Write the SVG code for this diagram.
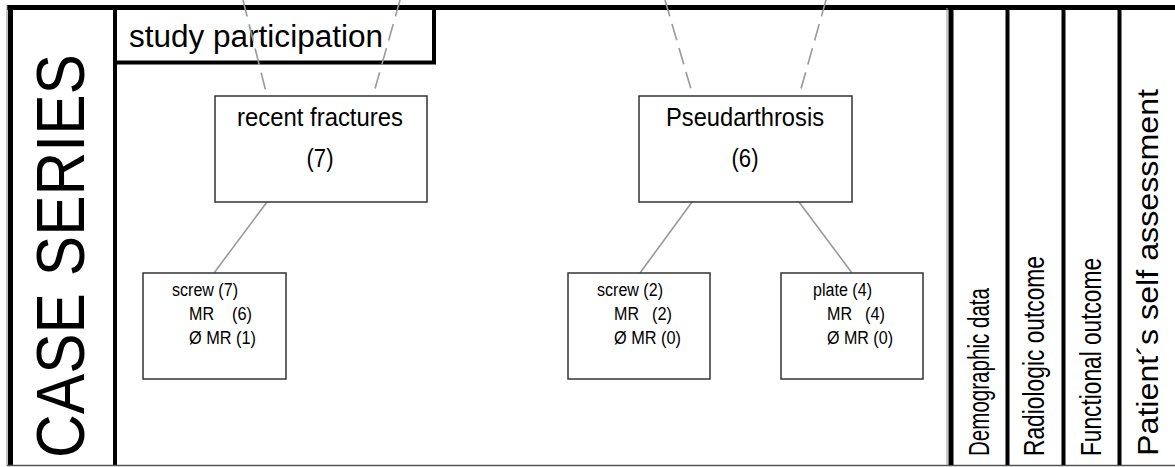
<svg xmlns="http://www.w3.org/2000/svg" width="1175" height="467" viewBox="0 0 1175 467">
<style>
text{font-family:"Liberation Sans",Arial,sans-serif;fill:#000}
.frame{stroke:#000;fill:none}
.box{fill:#fff;stroke:#333;stroke-width:1.5}
.conn{stroke:#999;stroke-width:1.6;fill:none}
.dash{stroke:#999;stroke-width:1.6;fill:none;stroke-dasharray:17 8}
.big{font-size:26px;text-anchor:middle}
.small{font-size:18px}
.lab{font-size:30px}
</style>
<rect x="0" y="0" width="1175" height="467" fill="#fff"/>
<g id="frame">
<line class="frame" x1="7" y1="7.5" x2="1175" y2="7.5" stroke-width="5"/>
<line class="frame" x1="10.5" y1="5" x2="10.5" y2="465" stroke-width="5"/>
<line x1="7" y1="5" x2="7" y2="466" stroke="#888" stroke-width="1"/>
<line class="frame" x1="115" y1="5" x2="115" y2="465" stroke-width="4"/>
<line x1="7" y1="465.5" x2="1175" y2="465.5" stroke="#555" stroke-width="1.5"/>
<line x1="947" y1="8" x2="947" y2="465" stroke="#999" stroke-width="1"/>
<line class="frame" x1="951" y1="5" x2="951" y2="465" stroke-width="5"/>
<line class="frame" x1="1007.5" y1="5" x2="1007.5" y2="465" stroke-width="4"/>
<line class="frame" x1="1063.5" y1="5" x2="1063.5" y2="465" stroke-width="4"/>
<line class="frame" x1="1119.5" y1="5" x2="1119.5" y2="465" stroke-width="4"/>
</g>
<g id="case-series">
<text transform="translate(84,256) rotate(-90)" font-size="68" text-anchor="middle" textLength="404" lengthAdjust="spacingAndGlyphs">CASE SERIES</text>
</g>
<g id="study-participation">
<rect class="frame" x="115" y="7.5" width="319" height="55" stroke-width="4"/>
<text x="129" y="47" font-size="31" textLength="254" lengthAdjust="spacingAndGlyphs">study participation</text>
</g>
<g id="connectors">
<line class="dash" x1="243" y1="0" x2="267" y2="96"/>
<line class="dash" x1="400" y1="0" x2="373" y2="96"/>
<line class="dash" x1="665" y1="0" x2="693" y2="96"/>
<line class="dash" x1="826" y1="0" x2="799" y2="96"/>
<line class="conn" x1="267" y1="202" x2="214" y2="273"/>
<line class="conn" x1="692" y1="202" x2="640" y2="273"/>
<line class="conn" x1="799" y1="202" x2="852" y2="273"/>
</g>
<g id="recent-fractures">
<rect class="box" x="215" y="96" width="212" height="106"/>
<text class="big" x="320" y="126" textLength="166" lengthAdjust="spacingAndGlyphs">recent fractures</text>
<text class="big" x="320" y="167" textLength="27" lengthAdjust="spacingAndGlyphs">(7)</text>
</g>
<g id="pseudarthrosis">
<rect class="box" x="639" y="96" width="213" height="106"/>
<text class="big" x="745" y="126" textLength="158" lengthAdjust="spacingAndGlyphs">Pseudarthrosis</text>
<text class="big" x="745" y="167" textLength="27" lengthAdjust="spacingAndGlyphs">(6)</text>
</g>
<g id="screw-7">
<rect class="box" x="143" y="273" width="143" height="106"/>
<text class="small" x="172" y="296" textLength="66" lengthAdjust="spacingAndGlyphs">screw (7)</text>
<text class="small" y="320"><tspan x="189" textLength="25" lengthAdjust="spacingAndGlyphs">MR</tspan><tspan x="232" textLength="20" lengthAdjust="spacingAndGlyphs">(6)</tspan></text>
<text class="small" x="189" y="344" textLength="67" lengthAdjust="spacingAndGlyphs">Ø MR (1)</text>
</g>
<g id="screw-2">
<rect class="box" x="568" y="273" width="142" height="106"/>
<text class="small" x="597" y="296" textLength="66" lengthAdjust="spacingAndGlyphs">screw (2)</text>
<text class="small" y="320"><tspan x="614" textLength="25" lengthAdjust="spacingAndGlyphs">MR</tspan><tspan x="652" textLength="20" lengthAdjust="spacingAndGlyphs">(2)</tspan></text>
<text class="small" x="614" y="344" textLength="67" lengthAdjust="spacingAndGlyphs">Ø MR (0)</text>
</g>
<g id="plate-4">
<rect class="box" x="781" y="273" width="142" height="106"/>
<text class="small" x="813" y="296" textLength="59" lengthAdjust="spacingAndGlyphs">plate (4)</text>
<text class="small" y="320"><tspan x="827" textLength="25" lengthAdjust="spacingAndGlyphs">MR</tspan><tspan x="865" textLength="20" lengthAdjust="spacingAndGlyphs">(4)</tspan></text>
<text class="small" x="827" y="344" textLength="66" lengthAdjust="spacingAndGlyphs">Ø MR (0)</text>
</g>
<g id="outcome-labels">
<text class="lab" transform="translate(989,456) rotate(-90)" textLength="168" lengthAdjust="spacingAndGlyphs">Demographic data</text>
<text class="lab" transform="translate(1044,456) rotate(-90)" textLength="200" lengthAdjust="spacingAndGlyphs">Radiologic outcome</text>
<text class="lab" transform="translate(1101,456) rotate(-90)" textLength="198" lengthAdjust="spacingAndGlyphs">Functional outcome</text>
<text class="lab" transform="translate(1158,456) rotate(-90)" textLength="367" lengthAdjust="spacingAndGlyphs">Patient´s self assessment</text>
</g>
</svg>
